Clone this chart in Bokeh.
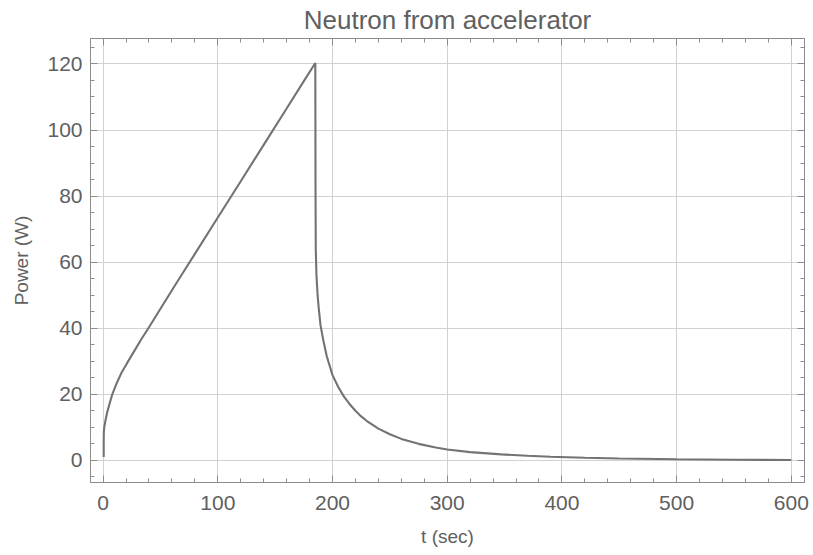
from bokeh.plotting import figure
from bokeh.models import LinearAxis, FixedTicker, Range1d, CustomLabelingPolicy
from bokeh.embed import file_html
from bokeh.resources import INLINE

# Data
t_sec = [0.5, 0.5, 0.6, 1.0, 2.0, 3.5, 5.5, 8.0, 12.0, 16.0, 21.0, 27.0, 33.0, 40.0,
         50.0, 60.0, 70.0, 80.0, 100.0, 120.0, 140.0, 160.0, 175.0, 185.0,
         185.2, 185.4, 186.0, 187.0, 188.0, 189.5, 192.0, 195.0, 200.0, 205.0, 210.0,
         215.0, 220.0, 225.0, 230.0, 240.0, 250.0, 260.0, 275.0, 290.0, 300.0, 320.0,
         347.0, 370.0, 390.0, 420.0, 450.0, 500.0, 550.0, 600.0]
power_w = [1.0, 5.0, 8.5, 10.0, 12.0, 14.5, 17.0, 20.0, 23.5, 26.5, 29.5, 33.0, 36.5, 40.3,
           45.9, 51.5, 57.0, 62.5, 73.5, 84.5, 95.5, 106.5, 114.8, 120.3,
           80.0, 64.0, 56.0, 50.0, 46.0, 41.0, 36.3, 31.5, 25.8, 22.2, 19.3,
           17.0, 15.0, 13.3, 11.9, 9.6, 7.9, 6.5, 5.0, 3.9, 3.3, 2.5,
           1.8, 1.4, 1.1, 0.8, 0.55, 0.35, 0.2, 0.12]

x_major = [0, 100, 200, 300, 400, 500, 600]
x_minor = list(range(-20, 621, 20))
y_major = [0, 20, 40, 60, 80, 100, 120]
y_minor = list(range(-5, 126, 5))

TEXT = "#606060"
FRAME = "#8c8c8c"
FONT = "Liberation Sans"

p = figure(frame_width=714, frame_height=444, output_backend="svg", toolbar_location=None,
           x_range=Range1d(-11, 611.5), y_range=Range1d(-6.7, 127.7),
           x_axis_label="t (sec)", y_axis_label="Power (W)",
           min_border_left=90, min_border_right=8, min_border_top=38,
           min_border_bottom=72)

p.title.text = "Neutron from accelerator"
p.title.align = "center"
p.title.text_font = FONT
p.title.text_font_size = "26px"
p.title.text_font_style = "normal"
p.title.text_color = TEXT
p.title.standoff = 0

bottom_ax = p.below[0]
left_ax = p.left[0]

no_labels = CustomLabelingPolicy(code="return new indices.constructor(indices.size)")
top_ax = LinearAxis(major_label_policy=no_labels)
right_ax = LinearAxis(major_label_policy=no_labels)
p.add_layout(top_ax, "above")
p.add_layout(right_ax, "right")

xt = FixedTicker(ticks=x_major, minor_ticks=x_minor)
yt = FixedTicker(ticks=y_major, minor_ticks=y_minor)

for ax in (bottom_ax, top_ax):
    ax.ticker = xt
for ax in (left_ax, right_ax):
    ax.ticker = yt

for ax in (bottom_ax, top_ax, left_ax, right_ax):
    ax.axis_line_color = FRAME
    ax.major_tick_line_color = FRAME
    ax.minor_tick_line_color = FRAME
    ax.major_tick_in = 7
    ax.major_tick_out = 0
    ax.minor_tick_in = 4
    ax.minor_tick_out = 0
    ax.major_label_text_font = FONT
    ax.major_label_text_font_size = "21px"
    ax.major_label_text_color = TEXT
    ax.axis_label_text_font = FONT
    ax.axis_label_text_font_size = "19px"
    ax.axis_label_text_font_style = "normal"
    ax.axis_label_text_color = TEXT

for ax in (top_ax, right_ax):
    ax.major_label_text_font_size = "1px"
    ax.major_label_standoff = 0
    ax.axis_label_standoff = 0

bottom_ax.major_label_standoff = 13
bottom_ax.axis_label_standoff = 13
left_ax.major_label_standoff = 8
left_ax.axis_label_standoff = 12

p.xgrid.ticker = FixedTicker(ticks=x_major)
p.ygrid.ticker = FixedTicker(ticks=y_major)
p.grid.grid_line_color = "#d2d2d2"
p.grid.grid_line_width = 1
p.outline_line_color = FRAME

p.line(t_sec, power_w, line_width=2.1, line_color="#737373")

open("out.html", "w").write(file_html(p, INLINE))
